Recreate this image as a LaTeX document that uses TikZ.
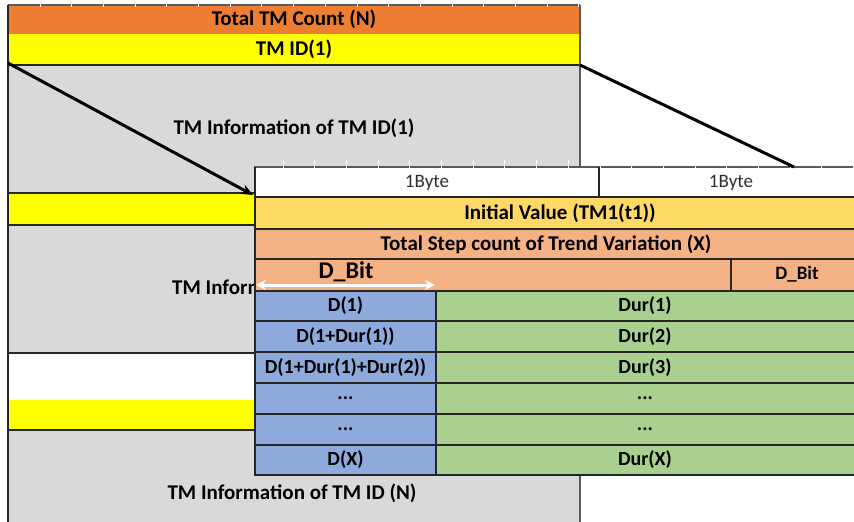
\documentclass[tikz,border=0pt]{standalone}
\usepackage{fontspec}
\setmainfont{Carlito}
\usetikzlibrary{arrows.meta}
\definecolor{orng}{HTML}{ED7D31}
\definecolor{yel}{HTML}{FFFF00}
\definecolor{gry}{HTML}{D9D9D9}
\definecolor{gold}{HTML}{FFD966}
\definecolor{salm}{HTML}{F4B183}
\definecolor{blu}{HTML}{8EA9DB}
\definecolor{grn}{HTML}{A9D08E}
\definecolor{bord}{HTML}{262626}
\definecolor{gline}{HTML}{595959}
\newcommand{\myellip}{...}
\begin{document}
\begin{tikzpicture}[x=1pt,y=-1pt,
  cellbox/.style={draw=bord, line width=1.3pt},
  lbl/.style={font=\fontsize{21}{24}\selectfont\bfseries, text=black, inner sep=0pt},
  smalllbl/.style={font=\fontsize{20}{24}\selectfont\bfseries, text=black, inner sep=0pt},
  bytelbl/.style={font=\fontsize{19}{22}\selectfont, text=black!82, inner sep=0pt},
  tick/.style={white, line width=1pt}]
\useasboundingbox (0,0) rectangle (854,522);
\begin{scope}
\clip (0,0) rectangle (854,522);
% ---------- left table ----------
\fill[orng] (8,5) rectangle (580,34);
\fill[yel] (8,34) rectangle (580,65);
\fill[gry] (8,65) rectangle (580,193);
\fill[yel] (8,193) rectangle (580,225);
\fill[gry] (8,225) rectangle (580,353);
\fill[white] (8,353) rectangle (580,400);
\fill[yel] (8,400) rectangle (580,430);
\fill[gry] (8,430) rectangle (580,530);
\draw[gline, line width=1.2pt] (8,5) -- (580,5);
\foreach \i in {0,...,17} \draw[tick] ({40+31.7*\i},2) -- ++(0,5);
\draw[bord, line width=1.3pt] (8,65) -- (580,65);
\draw[bord, line width=1.3pt] (8,193) -- (580,193);
\draw[bord, line width=1.3pt] (8,225) -- (580,225);
\draw[bord, line width=1.3pt] (8,353) -- (580,353);
\draw[bord, line width=1.3pt] (8,430) -- (580,430);
\draw[bord, line width=1.6pt] (8,5) -- (8,530);
\draw[gline, line width=1.4pt] (580,5) -- (580,530);
\node[lbl] (tot) at (294,19.5) {Total TM Count (N)};
\node[lbl] (id1) at (294,49.5) {TM ID(1)};
\node[lbl] (inf1) at (294,128) {TM Information of TM ID(1)};
\node[lbl, anchor=west] (inf2) at (172,287) {TM Inform};
\node[lbl] (infn) at (292,493) {TM Information of TM ID (N)};
% ---------- overlay table ----------
\draw[gline, line width=1.2pt, fill=white] (255,167) rectangle (870,197);
\draw[bord, line width=1.3pt] (255,167) -- (255,197);
\foreach \i in {0,...,18} \draw[tick] ({283+31.7*\i},160) -- ++(0,7.5);
\draw[cellbox] (599,167) -- (599,197);
\node[bytelbl] (b1) at (427,182.5) {1Byte};
\node[bytelbl] (b2) at (731,182.5) {1Byte};
\draw[cellbox, fill=gold] (255,197) rectangle (870,229);
\node[lbl] (iv) at (560,213) {Initial Value (TM1(t1))};
\draw[cellbox, fill=salm] (255,229) rectangle (870,259);
\node[lbl] (ts) at (546,244) {Total Step count of Trend Variation (X)};
\draw[cellbox, fill=salm] (255,259) rectangle (870,291);
\draw[cellbox] (731,259) -- (731,291);
\node[font=\fontsize{24}{28}\selectfont\bfseries, text=black, inner sep=0pt] (db1) at (346,272) {D\_Bit};
\node[font=\fontsize{19}{22}\selectfont\bfseries, text=black, inner sep=0pt] (db2) at (797,274) {D\_Bit};
\foreach \ya/\yb/\ta/\tb [count=\k] in {291/321/D(1)/Dur(1), 321/352/D(1+Dur(1))/Dur(2), 352/383/D(1+Dur(1)+Dur(2))/Dur(3), 383/414/{\myellip}/{\myellip}, 414/445/{\myellip}/{\myellip}, 445/475/D(X)/Dur(X)}{
  \draw[cellbox, fill=blu] (255,\ya) rectangle (436,\yb);
  \draw[cellbox, fill=grn] (436,\ya) rectangle (870,\yb);
  \node[smalllbl] (d\k) at (345.5,{(\ya+\yb)/2}) {\ta};
  \node[smalllbl] (dur\k) at (645,{(\ya+\yb)/2}) {\tb};
}
% ---------- connectors ----------
\coordinate (lstart) at (8,63);
\coordinate (lend) at (253,195);
\coordinate (rstart) at (580,65);
\coordinate (rend) at (794,167);
\coordinate (wl) at (256,285);
\coordinate (wr) at (435,285);
\draw[black, line width=3pt, -{Stealth[length=12pt,width=10pt]}] (lstart) -- (lend);
\draw[black, line width=3pt] (rstart) -- (rend);
\draw[white, line width=3pt, {Stealth[length=10pt,width=10pt]}-{Stealth[length=10pt,width=10pt]}] (wl) -- (wr);
\end{scope}
\end{tikzpicture}
\end{document}
